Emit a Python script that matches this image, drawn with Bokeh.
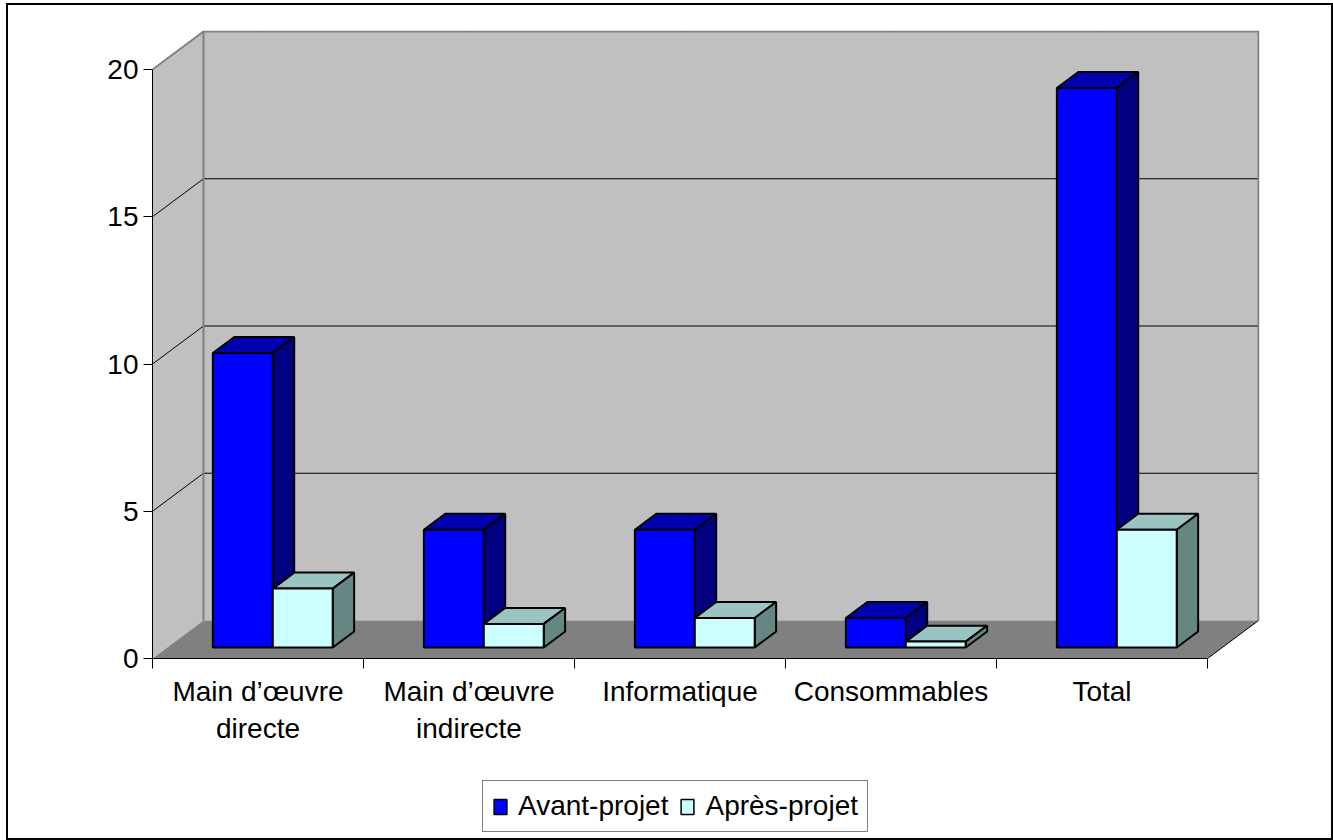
import numpy as np
from bokeh.plotting import figure
from bokeh.layouts import column
from bokeh.models import (FixedTicker, LinearAxis, Range1d, Legend, LegendItem)
from bokeh.embed import file_html
from bokeh.resources import INLINE

# ---------------- data ----------------
categories = ["Main d’œuvre\ndirecte", "Main d’œuvre\nindirecte", "Informatique",
              "Consommables", "Total"]
avant = [10, 4, 4, 1, 19]
apres = [2, 0.8, 1, 0.2, 4]
series_names = ["Avant-projet", "Après-projet"]
y_ticks = [0, 5, 10, 15, 20]

# ---------------- styling / geometry ----------------
FONT = "Liberation Sans"
OFF_X, OFF_Y = 8, 5                  # position of the bordered chart box in the page
BOX_W, BOX_H = 1323, 833
MAIN_H = 753                         # chart part; the rest holds the legend
PX_X = 211.0          # pixels per category
PX_Y = 29.45          # pixels per value unit
FRAME_L, FRAME_T = 152 - OFF_X, 30 - OFF_Y
FRAME_W, FRAME_H = 1107, 628
DX = 51 / PX_X        # depth offset (x, category units)
DY = 38 / PX_Y        # depth offset (y, value units)
BAR_W = 0.284
F0, F1 = 0.29, 0.71   # bar depth span as fraction of full depth
n = len(categories)
ytop = y_ticks[-1]
x_lo = -0.5
x_hi = n - 0.5

front_cols = ["#0000FF", "#CCFFFF"]
top_cols = ["#0000B0", "#99C4C2"]
side_cols = ["#000080", "#668684"]

p = figure(width=BOX_W, height=MAIN_H, output_backend="svg", toolbar_location=None,
           x_range=Range1d(x_lo, x_lo + FRAME_W / PX_X),
           y_range=Range1d(0, FRAME_H / PX_Y),
           x_axis_location=None, y_axis_location=None,
           min_border_left=FRAME_L, min_border_top=FRAME_T,
           min_border_right=BOX_W - FRAME_L - FRAME_W,
           min_border_bottom=MAIN_H - FRAME_T - FRAME_H)
p.outline_line_color = None
p.background_fill_color = "white"
p.border_fill_color = "white"

# ---------------- walls & floor ----------------
p.patch([x_lo, x_lo + DX, x_lo + DX, x_lo], [0, DY, ytop + DY, ytop],
        fill_color="#C0C0C0", line_color=None)
p.patch([x_lo + DX, x_hi + DX, x_hi + DX, x_lo + DX], [DY, DY, ytop + DY, ytop + DY],
        fill_color="#C0C0C0", line_color=None)
p.patch([x_lo, x_hi, x_hi + DX, x_lo + DX], [0, 0, DY, DY],
        fill_color="#808080", line_color=None)

inner = y_ticks[1:-1]
# back-wall gridlines
p.segment(x0=[x_lo + DX] * len(inner), y0=[t + DY for t in inner],
          x1=[x_hi + DX] * len(inner), y1=[t + DY for t in inner],
          line_color="black", line_width=1)
# side-wall gridlines
p.segment(x0=[x_lo] * len(inner), y0=inner,
          x1=[x_lo + DX] * len(inner), y1=[t + DY for t in inner],
          line_color="black", line_width=1)
# wall borders (gray)
p.line([x_lo, x_lo + DX, x_hi + DX, x_hi + DX], [ytop, ytop + DY, ytop + DY, DY],
       line_color="#808080", line_width=2)
p.line([x_lo + DX, x_lo + DX], [DY, ytop + DY], line_color="#808080", line_width=2)
# floor right edge
p.line([x_hi, x_hi + DX], [0, DY], line_color="black", line_width=1)

# ---------------- 3D bars ----------------
def faces(x0, x1, v):
    sx0, sy0 = F0 * DX, F0 * DY
    sx1, sy1 = F1 * DX, F1 * DY
    front = ([x0 + sx0, x1 + sx0, x1 + sx0, x0 + sx0], [sy0, sy0, v + sy0, v + sy0])
    top = ([x0 + sx0, x1 + sx0, x1 + sx1, x0 + sx1], [v + sy0, v + sy0, v + sy1, v + sy1])
    side = ([x1 + sx0, x1 + sx1, x1 + sx1, x1 + sx0], [sy0, sy1, v + sy1, v + sy0])
    return front, top, side

for s, vals in enumerate([avant, apres]):
    fx, fy, tx, ty, sx, sy = [], [], [], [], [], []
    for i, v in enumerate(vals):
        x0 = i - BAR_W + s * BAR_W
        x1 = x0 + BAR_W
        (a, b), (c, d), (e, f) = faces(x0, x1, v)
        fx.append(a); fy.append(b); tx.append(c); ty.append(d); sx.append(e); sy.append(f)
    p.patches(tx, ty, fill_color=top_cols[s], line_color="black", line_width=2)
    p.patches(sx, sy, fill_color=side_cols[s], line_color="black", line_width=2)
    p.patches(fx, fy, fill_color=front_cols[s], line_color="black", line_width=2)

# ---------------- axes ----------------
yaxis = LinearAxis(ticker=FixedTicker(ticks=y_ticks), bounds=(0, ytop),
                   major_tick_out=9, major_tick_in=0, minor_tick_out=0, minor_tick_in=0,
                   major_label_text_font=FONT, major_label_text_font_size="28px",
                   major_label_text_color="black", major_label_standoff=5,
                   axis_line_color="black", axis_line_width=1,
                   major_tick_line_color="black")
p.add_layout(yaxis, "left")

xaxis = LinearAxis(ticker=FixedTicker(ticks=list(range(n)),
                                      minor_ticks=[i - 0.5 for i in range(n + 1)]),
                   bounds=(x_lo, x_hi),
                   major_tick_out=0, major_tick_in=0, minor_tick_out=10, minor_tick_in=0,
                   major_label_overrides={i: c for i, c in enumerate(categories)},
                   major_label_text_font=FONT, major_label_text_font_size="28px",
                   major_label_text_color="black", major_label_standoff=7,
                   axis_line_color="black", axis_line_width=1,
                   minor_tick_line_color="black")
p.add_layout(xaxis, "below")

# ---------------- legend (separate strip below the chart) ----------------
LEG_H = BOX_H - MAIN_H
q = figure(width=BOX_W, height=LEG_H, output_backend="svg", toolbar_location=None,
           x_range=Range1d(0, 1), y_range=Range1d(0, 1),
           x_axis_location=None, y_axis_location=None, min_border=0)
q.outline_line_color = None
q.background_fill_color = "white"
q.border_fill_color = "white"
q.xgrid.visible = False
q.ygrid.visible = False
proxies = []
for s in range(2):
    # legend proxies, kept outside the visible range
    proxies.append(q.patches([[-3, -2, -2, -3]], [[-3, -3, -2, -2]],
                             fill_color=front_cols[s], line_color="black", line_width=1.5))
# the column aligns this strip's frame with the chart frame (page x = 152)
legend = Legend(items=[LegendItem(label=series_names[k], renderers=[proxies[k]])
                       for k in range(2)],
                location=(482 - (OFF_X + FRAME_L), 6), orientation="horizontal",
                glyph_width=16, glyph_height=19, label_standoff=10, spacing=11,
                padding=9, margin=0,
                label_text_font=FONT, label_text_font_size="28px",
                label_text_color="black",
                border_line_color="black", border_line_width=1.5,
                background_fill_color="white", background_fill_alpha=1)
q.add_layout(legend)

layout = column(p, q, spacing=0)
layout.margin = (OFF_Y, 0, 0, OFF_X)
layout.styles = {"outline": "2px solid black"}

open("out.html", "w").write(file_html(layout, INLINE))
